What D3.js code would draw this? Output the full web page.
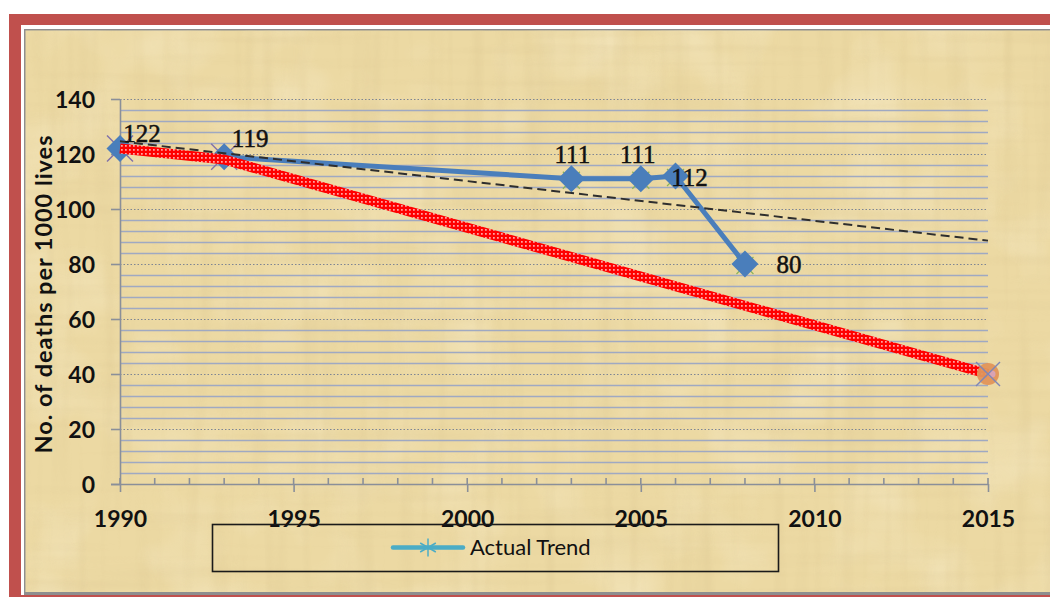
<!DOCTYPE html>
<html>
<head>
<meta charset="utf-8">
<script src="https://cdn.jsdelivr.net/npm/d3@7/dist/d3.min.js"></script>
<style>
  html, body { margin: 0; padding: 0; background: #ffffff; }
  svg { display: block; }
</style>
</head>
<body>
<svg id="chart" width="1050" height="597"></svg>
<script>
// ---- data ----
const actualYears = [1990, 1993, 2003, 2005, 2006, 2008];
const actualValues = [122, 119, 111, 111, 112, 80];

const targetYears = [1990, 1993, 2015];
const targetValues = [122, 118, 40];

const trendYears = [1990, 2015];
const trendValues = [124.6, 88.5];

const yTickValues = [0, 20, 40, 60, 80, 100, 120, 140];
const xTickValues = [1990, 1995, 2000, 2005, 2010, 2015];
const yAxisTitle = "No. of deaths per 1000 lives";
const legendLabel = "Actual Trend";

// label placement for each point of the actual series (pixel offsets)
const labelOffsets = [
  { dx: 22, dy: -7 },
  { dx: 26, dy: -10 },
  { dx: 1, dy: -16 },
  { dx: -3, dy: -16 },
  { dx: 14, dy: 10 },
  { dx: 44, dy: 9 }
];

// ---- layout ----
const svg = d3.select("#chart");
const W = 1050, H = 597;
const plot = { left: 120, right: 988, top: 99, bottom: 484 };

const x = d3.scaleLinear().domain([1990, 2015]).range([plot.left, plot.right]);
const y = d3.scaleLinear().domain([0, 140]).range([plot.bottom, plot.top]);

// ---- defs: papyrus texture, dotted red stroke ----
const defs = svg.append("defs");

const fib1 = defs.append("filter").attr("id", "fibH")
  .attr("x", 0).attr("y", 0).attr("width", 1).attr("height", 1);
fib1.append("feTurbulence").attr("type", "fractalNoise")
  .attr("baseFrequency", "0.004 0.09").attr("numOctaves", 2).attr("seed", 4);
fib1.append("feColorMatrix").attr("type", "matrix")
  .attr("values", "0 0 0 0 0.72  0 0 0 0 0.58  0 0 0 0 0.30  2.2 0 0 0 -1.05");

const fib2 = defs.append("filter").attr("id", "fibV")
  .attr("x", 0).attr("y", 0).attr("width", 1).attr("height", 1);
fib2.append("feTurbulence").attr("type", "fractalNoise")
  .attr("baseFrequency", "0.07 0.004").attr("numOctaves", 2).attr("seed", 11);
fib2.append("feColorMatrix").attr("type", "matrix")
  .attr("values", "0 0 0 0 0.70  0 0 0 0 0.56  0 0 0 0 0.28  2.2 0 0 0 -1.05");

const blot = defs.append("filter").attr("id", "blot")
  .attr("x", 0).attr("y", 0).attr("width", 1).attr("height", 1);
blot.append("feTurbulence").attr("type", "fractalNoise")
  .attr("baseFrequency", "0.012 0.012").attr("numOctaves", 3).attr("seed", 7);
blot.append("feColorMatrix").attr("type", "matrix")
  .attr("values", "0 0 0 0 1  0 0 0 0 0.97  0 0 0 0 0.85  2.0 0 0 0 -0.9");

const dots = defs.append("pattern").attr("id", "redDots")
  .attr("patternUnits", "userSpaceOnUse").attr("width", 4).attr("height", 4);
dots.append("rect").attr("width", 4).attr("height", 4).attr("fill", "#ff0000");
dots.append("rect").attr("x", 1.2).attr("y", 1.2).attr("width", 1.4).attr("height", 1.4).attr("fill", "#ffffff");

// ---- frame ----
svg.append("rect").attr("x", 0).attr("y", 0).attr("width", W).attr("height", H).attr("fill", "#ffffff");
svg.append("rect").attr("x", 9).attr("y", 14).attr("width", W - 9).attr("height", H - 14).attr("fill", "#C0504D");
svg.append("rect").attr("x", 21).attr("y", 25).attr("width", W - 21).attr("height", 570).attr("fill", "#ffffff");
svg.append("rect").attr("x", 24).attr("y", 29).attr("width", W - 24).attr("height", 566).attr("fill", "#8E8E8E");

const bg = { x: 25.5, y: 30.5, w: W - 25.5, h: 561.5 };
svg.append("rect").attr("x", bg.x).attr("y", bg.y).attr("width", bg.w).attr("height", bg.h).attr("fill", "#ECD9A3");
svg.append("rect").attr("x", bg.x).attr("y", bg.y).attr("width", bg.w).attr("height", bg.h)
  .attr("filter", "url(#blot)").attr("opacity", 0.3);
svg.append("rect").attr("x", bg.x).attr("y", bg.y).attr("width", bg.w).attr("height", bg.h)
  .attr("filter", "url(#fibH)").attr("opacity", 0.28);
svg.append("rect").attr("x", bg.x).attr("y", bg.y).attr("width", bg.w).attr("height", bg.h)
  .attr("filter", "url(#fibV)").attr("opacity", 0.3);

// ---- gridlines ----
const grid = svg.append("g");
const minorVals = d3.range(4, 141, 4).filter(v => v % 20 !== 0);
grid.selectAll("line.minor").data(minorVals).join("line")
  .attr("class", "minor")
  .attr("x1", plot.left).attr("x2", plot.right)
  .attr("y1", d => Math.round(y(d)) + 0.5).attr("y2", d => Math.round(y(d)) + 0.5)
  .attr("stroke", "#9FA9C2").attr("stroke-width", 1.3);
grid.selectAll("line.major").data(yTickValues.filter(v => v > 0)).join("line")
  .attr("class", "major")
  .attr("x1", plot.left).attr("x2", plot.right)
  .attr("y1", d => Math.round(y(d)) + 0.5).attr("y2", d => Math.round(y(d)) + 0.5)
  .attr("stroke", "#7E8593").attr("stroke-width", 1.2).attr("stroke-dasharray", "1.5 2");

// ---- axes ----
const axisColor = "#8A8F99";
const yAxis = svg.append("g").attr("transform", `translate(${plot.left},0)`)
  .call(d3.axisLeft(y).tickValues(yTickValues).tickSize(9).tickPadding(16));
const xAxis = svg.append("g").attr("transform", `translate(0,${plot.bottom})`)
  .call(d3.axisBottom(x).tickValues(xTickValues).tickFormat(d3.format("d")).tickSize(8).tickPadding(19));

[yAxis, xAxis].forEach(g => {
  g.select(".domain").attr("stroke", axisColor).attr("stroke-width", 1.6);
  g.selectAll(".tick line").attr("stroke", axisColor).attr("stroke-width", 1.6);
  g.selectAll(".tick text")
    .attr("fill", "#111")
    .style("font-family", "Lato, 'Open Sans', sans-serif")
    .style("font-weight", 700)
    .style("font-size", "23px");
});
yAxis.selectAll(".tick text").attr("dy", "0.36em");
xAxis.select(".domain").attr("d", `M${plot.left - 9},0.5H${plot.right}`);
yAxis.select(".domain").attr("d", `M0.5,${plot.top}V${plot.bottom}`);

// small inner year ticks plus upward part of the major ticks
svg.append("g").selectAll("line").data(d3.range(1990, 2016)).join("line")
  .attr("x1", d => x(d)).attr("x2", d => x(d))
  .attr("y1", plot.bottom - 6).attr("y2", plot.bottom)
  .attr("stroke", axisColor).attr("stroke-width", 1.6);

// ---- y axis title ----
svg.append("text")
  .attr("transform", `translate(52,${(plot.top + plot.bottom) / 2 + 3}) rotate(-90)`)
  .attr("text-anchor", "middle")
  .attr("textLength", 318)
  .attr("lengthAdjust", "spacing")
  .style("font-family", "Lato, 'Open Sans', sans-serif")
  .style("font-weight", 700)
  .style("font-size", "23.5px")
  .attr("fill", "#111")
  .text(yAxisTitle);

// ---- series ----
const target = targetYears.map((yr, i) => [yr, targetValues[i]]);
const actual = actualYears.map((yr, i) => [yr, actualValues[i]]);
const trend = trendYears.map((yr, i) => [yr, trendValues[i]]);

const straight = d3.line().x(d => x(d[0])).y(d => y(d[1]));

// marker crosses drawn underneath the main series
function cross(g, cx, cy, r, color, w) {
  g.append("line").attr("x1", cx - r).attr("y1", cy - r).attr("x2", cx + r).attr("y2", cy + r)
    .attr("stroke", color).attr("stroke-width", w);
  g.append("line").attr("x1", cx - r).attr("y1", cy + r).attr("x2", cx + r).attr("y2", cy - r)
    .attr("stroke", color).attr("stroke-width", w);
}
const under = svg.append("g");
actual.forEach((d, i) => {
  if (i < 2) cross(under, x(d[0]), y(d[1]), 13, "#7E6FA8", 1.4);
  else cross(under, x(d[0]), y(d[1]) + 1.5, 8.5, "#8DB356", 1.2);
});

// actual series
svg.append("path").datum(actual)
  .attr("d", straight)
  .attr("fill", "none").attr("stroke", "#4A7EBB").attr("stroke-width", 5)
  .attr("stroke-linejoin", "round");

svg.append("g").selectAll("path").data(actual).join("path")
  .attr("transform", d => `translate(${x(d[0])},${y(d[1])})`)
  .attr("d", "M0,-13.5L13.5,0L0,13.5L-13.5,0Z")
  .attr("fill", "#4A7EBB");

// target line (red dotted band)
svg.append("path").datum(target)
  .attr("d", straight)
  .attr("fill", "none").attr("stroke", "url(#redDots)").attr("stroke-width", 10)
  .attr("stroke-linejoin", "round").attr("stroke-linecap", "butt");

// end marker of the target series
const endPt = target[target.length - 1];
svg.append("circle").attr("cx", x(endPt[0])).attr("cy", y(endPt[1])).attr("r", 11)
  .attr("fill", "#E1955A").attr("opacity", 0.95);
svg.append("circle").attr("cx", x(endPt[0]) + 4).attr("cy", y(endPt[1])).attr("r", 3.5)
  .attr("fill", "#D9A3B3");
const topMarks = svg.append("g");
cross(topMarks, x(endPt[0]), y(endPt[1]), 12, "#7F86B5", 1.4);

// dashed trend line
svg.append("path").datum(trend)
  .attr("d", straight)
  .attr("fill", "none").attr("stroke", "#2E2E2E").attr("stroke-width", 2)
  .attr("stroke-dasharray", "9 5");

// data labels
svg.append("g").selectAll("text").data(actual).join("text")
  .attr("x", (d, i) => x(d[0]) + labelOffsets[i].dx)
  .attr("y", (d, i) => y(d[1]) + labelOffsets[i].dy)
  .attr("text-anchor", "middle")
  .style("font-family", "'Liberation Serif', 'DejaVu Serif', serif")
  .style("font-size", "25px")
  .attr("fill", "#111")
  .attr("stroke", "#111").attr("stroke-width", 0.5)
  .text(d => d[1]);

// ---- legend ----
const lg = svg.append("g");
lg.append("rect").attr("x", 212.5).attr("y", 524.5).attr("width", 566).attr("height", 47)
  .attr("fill", "none").attr("stroke", "#1a1a1a").attr("stroke-width", 1.6);
const ly = 547.5;
lg.append("line").attr("x1", 393).attr("x2", 463).attr("y1", ly).attr("y2", ly)
  .attr("stroke", "#4BACC6").attr("stroke-width", 4.5).attr("stroke-linecap", "round");
const sx = 428, sr = 9;
[[0, -sr, 0, sr], [-sr * 0.87, -sr * 0.5, sr * 0.87, sr * 0.5], [-sr * 0.87, sr * 0.5, sr * 0.87, -sr * 0.5]]
  .forEach(s => lg.append("line")
    .attr("x1", sx + s[0]).attr("y1", ly + s[1]).attr("x2", sx + s[2]).attr("y2", ly + s[3])
    .attr("stroke", "#4BACC6").attr("stroke-width", 1.5));
lg.append("text").attr("x", 470).attr("y", 555)
  .style("font-family", "Lato, 'Open Sans', sans-serif")
  .style("font-size", "22px")
  .attr("fill", "#111")
  .text(legendLabel);
</script>
</body>
</html>
